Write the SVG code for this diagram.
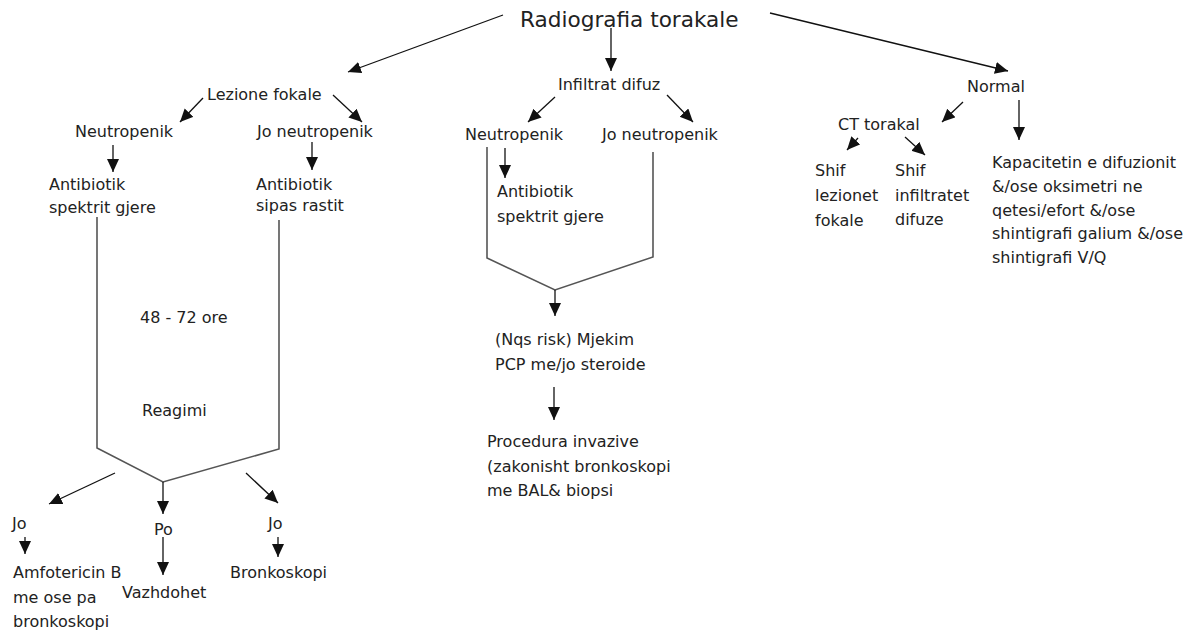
<svg xmlns="http://www.w3.org/2000/svg" width="1191" height="632" viewBox="0 0 1191 632">
<style>
text{font-family:"DejaVu Sans","Liberation Sans",sans-serif;font-size:16px;fill:#222}
.title{font-size:21.6px}
.c{stroke:#111;stroke-width:1.3;fill:none}
.a{marker-end:url(#ah)}
.g{stroke:#555;stroke-width:1.6;fill:none}
</style>
<defs>
<marker id="ah" markerWidth="14" markerHeight="13" refX="13" refY="6" orient="auto" markerUnits="userSpaceOnUse">
<path d="M0,0 L13,6 L0,12 z" fill="#111"/>
</marker>
</defs>
<rect width="1191" height="632" fill="#fff"/>
<g id="connectors">
<line class="c a" x1="503" y1="15" x2="348" y2="72"/>
<line class="c a" x1="611" y1="28" x2="611" y2="71"/>
<line class="c a" x1="770" y1="13" x2="1008" y2="71"/>
<line class="c a" x1="203" y1="98" x2="180" y2="122"/>
<line class="c a" x1="333" y1="95" x2="362" y2="122"/>
<line class="c a" x1="113" y1="145" x2="113" y2="172"/>
<line class="c a" x1="312" y1="142" x2="312" y2="170"/>
<polyline class="g" points="97,217 97,448 163,482 279,449 279,220"/>
<line class="c a" x1="115" y1="473" x2="49" y2="504"/>
<line class="c a" x1="163" y1="482" x2="163" y2="514"/>
<line class="c a" x1="246" y1="473" x2="278" y2="503"/>
<line class="c a" x1="25" y1="537" x2="25" y2="554"/>
<line class="c a" x1="163" y1="537" x2="163" y2="575"/>
<line class="c a" x1="278" y1="537" x2="278" y2="557"/>
<line class="c a" x1="555" y1="97" x2="528" y2="122"/>
<line class="c a" x1="667" y1="95" x2="693" y2="122"/>
<line class="c a" x1="505" y1="148" x2="505" y2="178"/>
<polyline class="g" points="487,147 487,258 555,290 653,257 653,152"/>
<line class="c a" x1="555" y1="290" x2="555" y2="316"/>
<line class="c a" x1="554" y1="387" x2="554" y2="420"/>
<line class="c a" x1="963" y1="102" x2="942" y2="122"/>
<line class="c a" x1="1019" y1="100" x2="1019" y2="140"/>
<line class="c a" x1="858" y1="138" x2="847" y2="150"/>
<line class="c a" x1="905" y1="137" x2="925" y2="155"/>
</g>
<g id="n-radiografia"><text class="title" x="520" y="27">Radiografia torakale</text></g>
<g id="n-lezione"><text x="207" y="100">Lezione fokale</text></g>
<g id="n-neutro1"><text x="75" y="137">Neutropenik</text></g>
<g id="n-joneutro1"><text x="257" y="137">Jo neutropenik</text></g>
<g id="n-antib1"><text x="49" y="190">Antibiotik</text><text x="49" y="213">spektrit gjere</text></g>
<g id="n-antib2"><text x="256" y="190">Antibiotik</text><text x="256" y="211">sipas rastit</text></g>
<g id="n-48"><text x="140" y="323">48 - 72 ore</text></g>
<g id="n-reagimi"><text x="142" y="416">Reagimi</text></g>
<g id="n-jo1"><text x="12" y="529">Jo</text></g>
<g id="n-po"><text x="154" y="535">Po</text></g>
<g id="n-jo2"><text x="268" y="529">Jo</text></g>
<g id="n-amfo"><text x="13" y="578">Amfotericin B</text><text x="13" y="603">me ose pa</text><text x="13" y="627">bronkoskopi</text></g>
<g id="n-vazh"><text x="122" y="598">Vazhdohet</text></g>
<g id="n-bronk"><text x="230" y="578">Bronkoskopi</text></g>
<g id="n-infiltrat"><text x="558" y="90">Infiltrat difuz</text></g>
<g id="n-neutro2"><text x="465" y="140">Neutropenik</text></g>
<g id="n-joneutro2"><text x="602" y="140">Jo neutropenik</text></g>
<g id="n-antib3"><text x="497" y="197">Antibiotik</text><text x="497" y="222">spektrit gjere</text></g>
<g id="n-nqs"><text x="495" y="345">(Nqs risk) Mjekim</text><text x="495" y="370">PCP me/jo steroide</text></g>
<g id="n-proc"><text x="487" y="447">Procedura invazive</text><text x="487" y="472">(zakonisht bronkoskopi</text><text x="487" y="496">me BAL&amp; biopsi</text></g>
<g id="n-normal"><text x="967" y="92">Normal</text></g>
<g id="n-ct"><text x="838" y="130">CT torakal</text></g>
<g id="n-shif1"><text x="815" y="176">Shif</text><text x="815" y="201">lezionet</text><text x="815" y="226">fokale</text></g>
<g id="n-shif2"><text x="895" y="176">Shif</text><text x="895" y="201">infiltratet</text><text x="895" y="225">difuze</text></g>
<g id="n-kap"><text x="992" y="168">Kapacitetin e difuzionit</text><text x="992" y="192">&amp;/ose oksimetri ne</text><text x="992" y="216">qetesi/efort &amp;/ose</text><text x="992" y="239">shintigrafi galium &amp;/ose</text><text x="992" y="263">shintigrafi V/Q</text></g>
</svg>
